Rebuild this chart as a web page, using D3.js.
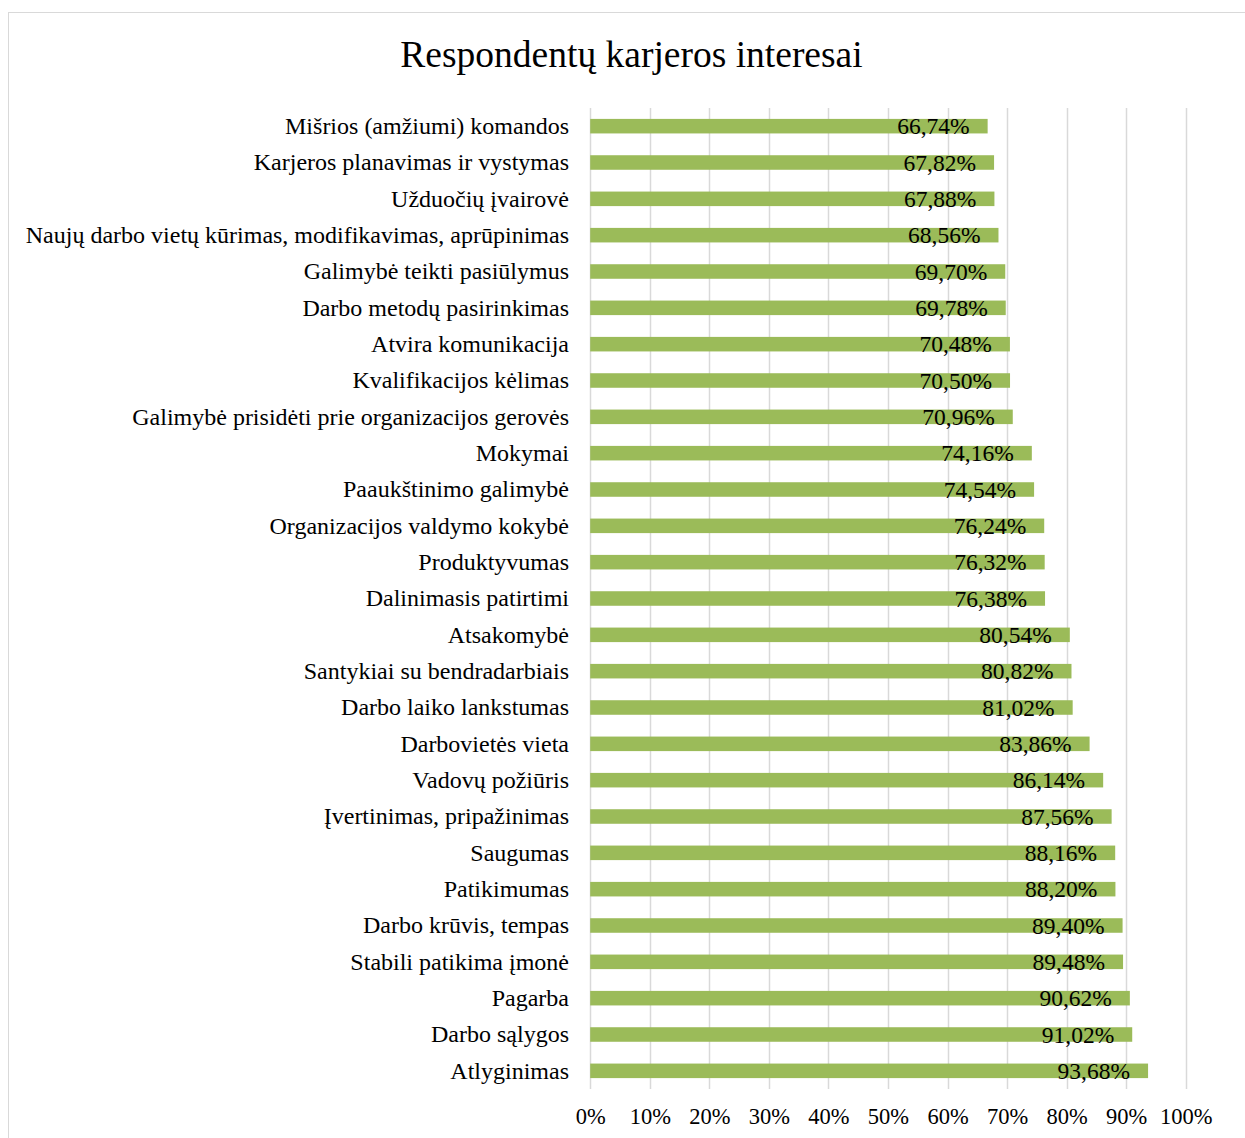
<!DOCTYPE html>
<html>
<head>
<meta charset="utf-8">
<script src="https://cdn.jsdelivr.net/npm/d3@7"></script>
<style>
  html, body { margin: 0; padding: 0; background: #fff; }
  svg { display: block; }
  text { font-family: "Liberation Serif", "Times New Roman", serif; fill: #000; }
</style>
</head>
<body>
<svg id="chart" width="1245" height="1138"></svg>
<script>
const title = "Respondentų karjeros interesai";
const categories = [
  "Mišrios (amžiumi) komandos",
  "Karjeros planavimas ir vystymas",
  "Užduočių įvairovė",
  "Naujų darbo vietų kūrimas, modifikavimas, aprūpinimas",
  "Galimybė teikti pasiūlymus",
  "Darbo metodų pasirinkimas",
  "Atvira komunikacija",
  "Kvalifikacijos kėlimas",
  "Galimybė prisidėti prie organizacijos gerovės",
  "Mokymai",
  "Paaukštinimo galimybė",
  "Organizacijos valdymo kokybė",
  "Produktyvumas",
  "Dalinimasis patirtimi",
  "Atsakomybė",
  "Santykiai su bendradarbiais",
  "Darbo laiko lankstumas",
  "Darbovietės vieta",
  "Vadovų požiūris",
  "Įvertinimas, pripažinimas",
  "Saugumas",
  "Patikimumas",
  "Darbo krūvis, tempas",
  "Stabili patikima įmonė",
  "Pagarba",
  "Darbo sąlygos",
  "Atlyginimas"
];
const values = [
  66.74, 67.82, 67.88, 68.56, 69.70, 69.78, 70.48, 70.50, 70.96,
  74.16, 74.54, 76.24, 76.32, 76.38, 80.54, 80.82, 81.02, 83.86,
  86.14, 87.56, 88.16, 88.20, 89.40, 89.48, 90.62, 91.02, 93.68
];
const tickValues = [0, 10, 20, 30, 40, 50, 60, 70, 80, 90, 100];

const svg = d3.select("#chart");

// chart border
svg.append("rect")
  .attr("x", 8.5).attr("y", 12.5)
  .attr("width", 1300).attr("height", 1200)
  .attr("fill", "#fff").attr("stroke", "#d9d9d9").attr("stroke-width", 1);

const plot = { left: 590.2, right: 1185.7, top: 108, bottom: 1089 };

const x = d3.scaleLinear().domain([0, 100]).range([plot.left, plot.right]);
const y = d3.scaleBand().domain(categories).range([plot.top, plot.bottom])
  .paddingInner(0.6).paddingOuter(0.3);

// title
svg.append("text")
  .attr("x", 631.5).attr("y", 67)
  .attr("text-anchor", "middle")
  .attr("font-size", 37.5)
  .text(title);

// gridlines
svg.append("g").selectAll("line")
  .data(tickValues)
  .join("line")
  .attr("x1", d => Math.round(x(d)) + 0.5)
  .attr("x2", d => Math.round(x(d)) + 0.5)
  .attr("y1", plot.top).attr("y2", plot.bottom)
  .attr("stroke", "#d9d9d9").attr("stroke-width", 1.5);

// x axis (labels only)
const xAxis = d3.axisBottom(x).tickValues(tickValues).tickSize(0).tickPadding(0)
  .tickFormat(d => d + "%");
const gx = svg.append("g").attr("transform", `translate(0, ${plot.bottom})`).call(xAxis);
gx.select(".domain").remove();
gx.selectAll("text")
  .attr("font-family", "Liberation Serif, Times New Roman, serif")
  .attr("font-size", 22.5)
  .attr("fill", "#000")
  .attr("y", 35).attr("dy", 0);

// y axis (labels only)
const yAxis = d3.axisLeft(y).tickSize(0).tickPadding(0);
const gy = svg.append("g").attr("transform", `translate(569, 0)`).call(yAxis);
gy.select(".domain").remove();
gy.selectAll("text")
  .attr("font-family", "Liberation Serif, Times New Roman, serif")
  .attr("font-size", 24)
  .attr("fill", "#000")
  .attr("x", 0).attr("dy", "0.33em");

// bars
const data = categories.map((c, i) => ({ c, v: values[i] }));
svg.append("g").selectAll("rect")
  .data(data)
  .join("rect")
  .attr("x", x(0))
  .attr("y", d => y(d.c))
  .attr("width", d => x(d.v) - x(0))
  .attr("height", y.bandwidth())
  .attr("fill", "#9bbb59");

// data labels
const fmt = v => v.toFixed(2).replace(".", ",") + "%";
svg.append("g").selectAll("text")
  .data(data)
  .join("text")
  .attr("x", d => x(d.v) - 18)
  .attr("y", d => y(d.c) + y.bandwidth() / 2)
  .attr("dy", "0.35em")
  .attr("text-anchor", "end")
  .attr("font-size", 23.5)
  .text(d => fmt(d.v));
</script>
</body>
</html>
